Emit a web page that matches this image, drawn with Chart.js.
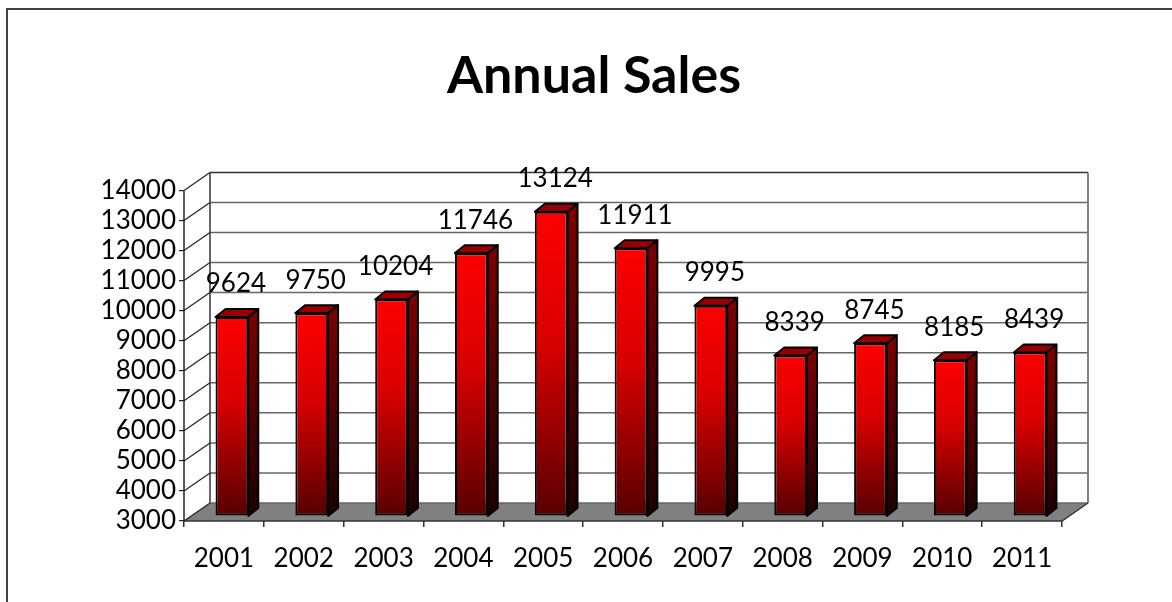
<!DOCTYPE html>
<html>
<head>
<meta charset="utf-8">
<title>Annual Sales</title>
<script src="https://cdn.jsdelivr.net/npm/chart.js@4.4.0/dist/chart.umd.min.js"></script>
<style>
  html, body { margin: 0; padding: 0; background: #fff; }
  #wrap { width: 1172px; height: 602px; position: relative; }
</style>
</head>
<body>
<div id="wrap"><canvas id="sales-chart"></canvas></div>
<script>
// === ANNUAL SALES (3D column look) ===

const years  = ["2001", "2002", "2003", "2004", "2005", "2006", "2007", "2008", "2009", "2010", "2011"];
const sales  = [9624, 9750, 10204, 11746, 13124, 11911, 9995, 8339, 8745, 8185, 8439];
const yTicks = [3000, 4000, 5000, 6000, 7000, 8000, 9000, 10000, 11000, 12000, 13000, 14000];

const FONT = "Lato, 'Open Sans', sans-serif";

// depth offsets: back wall, bar plane, bar depth
const WALL  = { dx: 26, dy: -18 };
const SHIFT = { dx: 8,  dy: -5 };
const BAR3D = { dx: 10, dy: -8 };

const frontGradient = (ctx) => {
  const chart = ctx.chart;
  if (!chart.chartArea || ctx.type !== "data") return "#e00000";
  const y    = chart.scales.y;
  const top  = y.getPixelForValue(ctx.raw) + SHIFT.dy;
  const base = y.getPixelForValue(yTicks[0]) + SHIFT.dy;
  const g = chart.ctx.createLinearGradient(0, top, 0, base);
  g.addColorStop(0, "#ff0000");
  g.addColorStop(0.45, "#d80000");
  g.addColorStop(1, "#5c0000");
  return g;
};

const frame = {
  id: "frame",
  beforeDraw(chart) {
    const c = chart.ctx;
    c.save();
    c.strokeStyle = "#404040";
    c.lineWidth = 2;
    c.strokeRect(7, 9, 1200, 700);
    c.restore();
  },
};

const walls = {
  id: "walls",
  beforeDatasetsDraw(chart) {
    const c = chart.ctx;
    const { left, right } = chart.chartArea;
    const y = chart.scales.y;
    const yTop = y.getPixelForValue(yTicks[yTicks.length - 1]);
    const yBot = y.getPixelForValue(yTicks[0]);

    c.save();
    // floor
    c.beginPath();
    c.moveTo(left, yBot);
    c.lineTo(right, yBot);
    c.lineTo(right + WALL.dx, yBot + WALL.dy);
    c.lineTo(left + WALL.dx, yBot + WALL.dy);
    c.closePath();
    c.fillStyle = "#808080";
    c.fill();

    // back wall gridlines + side wall lines
    yTicks.forEach((v, i) => {
      const py = y.getPixelForValue(v);
      c.lineWidth = 1.5;
      c.strokeStyle = i === yTicks.length - 1 ? "#333" : "#666";
      c.beginPath();
      c.moveTo(left + WALL.dx, py + WALL.dy);
      c.lineTo(right + WALL.dx, py + WALL.dy);
      c.stroke();
      c.strokeStyle = "#222";
      c.lineWidth = 1.2;
      c.beginPath();
      c.moveTo(left, py);
      c.lineTo(left + WALL.dx, py + WALL.dy);
      c.stroke();
    });

    // back wall edges
    c.lineWidth = 1.5;
    c.strokeStyle = "#333";
    c.beginPath();
    c.moveTo(left + WALL.dx, yTop + WALL.dy);
    c.lineTo(left + WALL.dx, yBot + WALL.dy);
    c.stroke();
    c.strokeStyle = "#808080";
    c.lineWidth = 2;
    c.beginPath();
    c.moveTo(right + WALL.dx, yTop + WALL.dy);
    c.lineTo(right + WALL.dx, yBot + WALL.dy);
    c.stroke();

    // floor outline: front edge and right edge
    c.strokeStyle = "#333";
    c.lineWidth = 1.5;
    c.beginPath();
    c.moveTo(left, yBot);
    c.lineTo(right, yBot);
    c.lineTo(right + WALL.dx, yBot + WALL.dy);
    c.stroke();

    // front value axis
    c.strokeStyle = "#222";
    c.beginPath();
    c.moveTo(left, yTop);
    c.lineTo(left, yBot);
    c.stroke();
    c.restore();

    // bars sit on a plane slightly behind the front edge
    c.save();
    c.translate(SHIFT.dx, SHIFT.dy);
  },
  afterDatasetsDraw(chart) {
    const c = chart.ctx;
    const yScale = chart.scales.y;
    const base = yScale.getPixelForValue(yTicks[0]);
    const bars = chart.getDatasetMeta(0).data;
    bars.forEach((bar) => {
      const { x, y, width } = bar.getProps(["x", "y", "width"], true);
      const l = x - width / 2, r = x + width / 2;

      // side face
      const gs = c.createLinearGradient(0, y, 0, base);
      gs.addColorStop(0, "#7a0000");
      gs.addColorStop(1, "#1c0000");
      c.beginPath();
      c.moveTo(r, y);
      c.lineTo(r + BAR3D.dx, y + BAR3D.dy);
      c.lineTo(r + BAR3D.dx, base + BAR3D.dy);
      c.lineTo(r, base);
      c.closePath();
      c.fillStyle = gs;
      c.fill();
      c.strokeStyle = "#000";
      c.lineWidth = 2;
      c.lineJoin = "round";
      c.stroke();

      // top face
      c.beginPath();
      c.moveTo(l, y);
      c.lineTo(l + BAR3D.dx, y + BAR3D.dy);
      c.lineTo(r + BAR3D.dx, y + BAR3D.dy);
      c.lineTo(r, y);
      c.closePath();
      c.fillStyle = "#960000";
      c.fill();
      c.stroke();
    });
    c.restore();

    // value labels
    c.save();
    c.font = `26px ${FONT}`;
    c.fillStyle = "#000";
    c.textAlign = "center";
    c.textBaseline = "middle";
    bars.forEach((bar, i) => {
      c.fillText(String(sales[i]), bar.x + SHIFT.dx + 4, bar.y + SHIFT.dy - 33);
    });
    c.restore();
  },
};

new Chart(document.getElementById("sales-chart"), {
  type: "bar",
  data: {
    labels: years,
    datasets: [
      {
        label: "Sales",
        data: sales,
        base: yTicks[0],
        backgroundColor: frontGradient,
        borderColor: "#000",
        borderWidth: 2,
        borderSkipped: false,
        categoryPercentage: 1,
        barPercentage: 0.41,
        yAxisID: "y",
      },
    ],
  },
  options: {
    responsive: true,
    maintainAspectRatio: false,
    animation: false,
    layout: { padding: { left: 16, right: 0, top: 0, bottom: 0 } },
    plugins: {
      legend: { display: false },
      tooltip: { enabled: false },
      title: {
        display: true,
        text: "Annual Sales",
        color: "#000",
        font: { family: FONT, size: 52, weight: "bold" },
        padding: { top: 45, bottom: 83 },
      },
    },
    scales: {
      x: {
        offset: true,
        afterFit: (s) => { s.height = 81; },
        grid: { display: true, drawOnChartArea: false, offset: true, tickLength: 6, color: "#333", lineWidth: 1.5 },
        border: { display: false },
        ticks: { color: "#000", font: { family: FONT, size: 26 }, padding: 16, autoSkip: false, maxRotation: 0 },
      },
      y: {
        min: yTicks[0],
        max: yTicks[yTicks.length - 1],
        afterFit: (s) => { s.width = 168; },
        afterBuildTicks: (s) => { s.ticks = yTicks.map((v) => ({ value: v })); },
        grid: { display: true, drawOnChartArea: false, tickLength: 5, color: "#222", lineWidth: 1.2 },
        border: { display: false },
        ticks: {
          color: "#000",
          font: { family: FONT, size: 26 },
          padding: 3,
          autoSkip: false,
          callback: (v) => String(v),
        },
      },
      // empty right-hand axis that keeps the space to the right of the plot
      side: {
        type: "linear",
        position: "right",
        afterFit: (s) => { s.width = 110; },
        grid: { display: false },
        border: { display: false },
        ticks: { display: false },
      },
    },
  },
  plugins: [frame, walls],
});
</script>
</body>
</html>
